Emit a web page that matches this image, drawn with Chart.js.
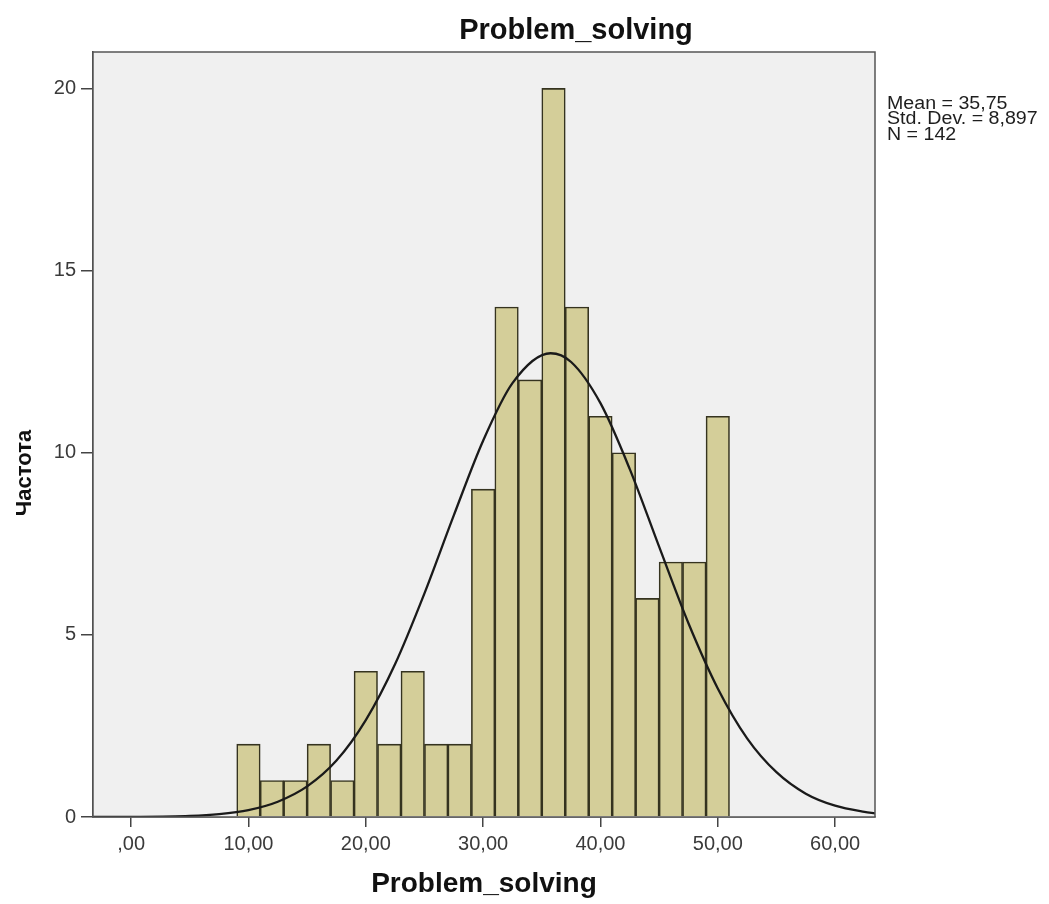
<!DOCTYPE html>
<html>
<head>
<meta charset="utf-8">
<script src="https://cdn.jsdelivr.net/npm/chart.js@4/dist/chart.umd.min.js"></script>
<style>
  body { margin: 0; background: #fff; }
  #wrap { width: 1049px; height: 904px; }
</style>
</head>
<body>
<div id="wrap"><canvas id="histograma" width="1049" height="904"></canvas></div>
<script>
// Centros de las clases (ancho 2) y frecuencias
const binCenters = [10, 12, 14, 16, 18, 20, 22, 24, 26, 28, 30, 32, 34, 36, 38, 40, 42, 44, 46, 48, 50];
const frequencies = [2, 1, 1, 2, 1, 4, 2, 4, 2, 2, 9, 14, 12, 20, 14, 11, 10, 6, 7, 7, 11];

// Curva normal
const curveX = [-3.25, 0, 5, 7.5, 10, 12.5, 15, 17.5, 20, 22.5, 25, 27.5, 30, 32.5, 35.75, 37.5, 40, 42.5, 45, 47.5, 50, 52.5, 55, 57.5, 60, 62.5, 63.4];
const curveY = [0.001, 0.004, 0.03, 0.08, 0.19, 0.42, 0.84, 1.55, 2.66, 4.2, 6.14, 8.28, 10.33, 11.91, 12.73, 12.49, 11.36, 9.55, 7.42, 5.32, 3.53, 2.16, 1.23, 0.64, 0.31, 0.14, 0.1];

const xTicks = [0, 10, 20, 30, 40, 50, 60];
const xTickLabels = [',00', '10,00', '20,00', '30,00', '40,00', '50,00', '60,00'];
const yTicks = [0, 5, 10, 15, 20];

const chartTitle = 'Problem_solving';
const xTitle = 'Problem_solving';
const yTitle = 'Частота';
const statsLines = ['Mean = 35,75', 'Std. Dev. = 8,897', 'N = 142'];

const FONT = "'Liberation Sans', Arial, sans-serif";

// Fondo gris del area de trazado y marco
const plotFrame = {
    id: 'plotFrame',
    beforeDatasetsDraw(chart) {
        const { ctx, chartArea: a } = chart;
        ctx.save();
        ctx.fillStyle = '#f0f0f0';
        ctx.fillRect(a.left, a.top, a.right - a.left, a.bottom - a.top);
        ctx.restore();
    },
    afterDraw(chart) {
        const { ctx, chartArea: a } = chart;
        ctx.save();
        ctx.strokeStyle = '#555';
        ctx.lineWidth = 1.5;
        ctx.strokeRect(a.left, a.top, a.right - a.left, a.bottom - a.top);

        ctx.fillStyle = '#111';
        ctx.textAlign = 'center';
        ctx.textBaseline = 'middle';
        ctx.font = 'bold 29px ' + FONT;
        ctx.fillText(chartTitle, 576, 31);

        ctx.save();
        ctx.translate(25, 473);
        ctx.rotate(-Math.PI / 2);
        ctx.font = 'bold 22px ' + FONT;
        ctx.fillText(yTitle, 0, 0);
        ctx.restore();

        // texto de estadisticos, algo ensanchado como en el original
        ctx.fillStyle = '#1e1e1e';
        ctx.textAlign = 'left';
        ctx.font = '18px ' + FONT;
        ctx.translate(887, 0);
        ctx.scale(1.09, 1);
        statsLines.forEach((t, i) => ctx.fillText(t, 0, 104 + i * 15.5));
        ctx.restore();
    }
};

const ctx = document.getElementById('histograma').getContext('2d');

new Chart(ctx, {
    type: 'bar',
    data: {
        datasets: [{
            type: 'line',
            data: curveX.map((x, i) => ({ x: x, y: curveY[i] })),
            borderColor: '#1a1a1a',
            borderWidth: 2.3,
            pointRadius: 0,
            cubicInterpolationMode: 'monotone',
            fill: false,
            order: 0
        }, {
            type: 'bar',
            data: binCenters.map((x, i) => ({ x: x, y: frequencies[i] })),
            backgroundColor: '#d4ce99',
            borderColor: '#35331f',
            borderWidth: 1.6,
            barPercentage: 1,
            categoryPercentage: 1,
            order: 1
        }]
    },
    options: {
        responsive: false,
        animation: false,
        layout: { padding: { top: 52, right: 174, left: 0, bottom: 0 } },
        plugins: {
            legend: { display: false },
            tooltip: { enabled: false }
        },
        scales: {
            x: {
                type: 'linear',
                min: -3.25,
                max: 63.4,
                offset: false,
                afterBuildTicks: (scale) => { scale.ticks = xTicks.map(v => ({ value: v })); },
                afterFit: (scale) => { scale.height = 87; },
                ticks: {
                    callback: (v) => xTickLabels[xTicks.indexOf(v)],
                    font: { family: FONT, size: 20 },
                    color: '#3a3a3a',
                    padding: 5,
                    maxRotation: 0
                },
                grid: { offset: false, drawOnChartArea: false, drawTicks: true, tickLength: 10, color: '#444', lineWidth: 1.5 },
                border: { display: true, color: '#444', width: 1.5 },
                title: {
                    display: true,
                    text: xTitle,
                    font: { family: FONT, size: 28, weight: 'bold' },
                    color: '#111',
                    padding: { top: 0, bottom: 3 }
                }
            },
            y: {
                min: 0,
                max: 21,
                afterBuildTicks: (scale) => { scale.ticks = yTicks.map(v => ({ value: v })); },
                afterFit: (scale) => { scale.width = 93; },
                ticks: {
                    font: { family: FONT, size: 20 },
                    color: '#3a3a3a',
                    padding: 5
                },
                grid: { drawOnChartArea: false, drawTicks: true, tickLength: 12, color: '#444', lineWidth: 1.5 },
                border: { display: true, color: '#444', width: 1.5 }
            }
        }
    },
    plugins: [plotFrame]
});
</script>
</body>
</html>
